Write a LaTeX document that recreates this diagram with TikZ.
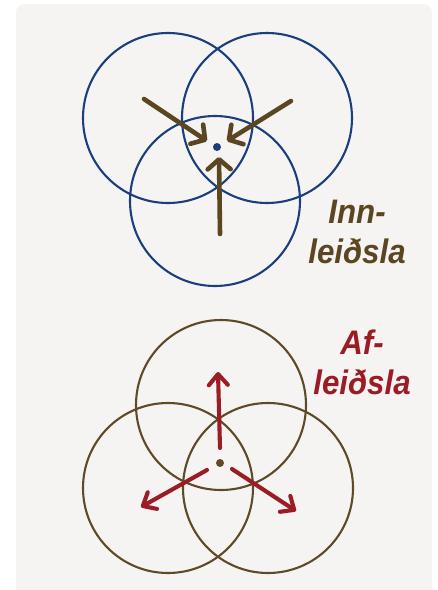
\documentclass[tikz,border=0pt]{standalone}
\usepackage{fontspec}
\setmainfont{Liberation Sans}
\newfontfamily\labelfont[FakeStretch=0.92]{Liberation Sans}
\usepackage{xcolor}
\usetikzlibrary{arrows.meta}

\definecolor{panel}{HTML}{F5F4F2}
\definecolor{navy}{HTML}{1B3F7E}
\definecolor{umber}{HTML}{5C4521}
\definecolor{ringbrown}{HTML}{5E4A28}
\definecolor{wine}{HTML}{9B1C24}

\begin{document}
\begin{tikzpicture}[x=1pt,y=-1pt,
  ring/.style={line width=2.1pt},
  inarrow/.style={umber,line width=4.6pt,line cap=round,
    -{Straight Barb[length=10pt,width=23pt,line cap=round,line join=round]}},
  outarrow/.style={wine,line width=4.1pt,line cap=round,
    -{Straight Barb[length=11pt,width=19pt,line cap=round,line join=round]}},
  word/.style={font=\labelfont\fontsize{34}{40}\selectfont\bfseries\itshape,anchor=base,inner sep=0pt}]
  \useasboundingbox (0,0) rectangle (438,590);
  \clip (0,0) rectangle (438,590);
  \fill[panel,rounded corners=8pt] (16,4) rectangle (432,620);

  % upper picture: three circles, arrows pointing in
  \draw[navy,ring] (168,118) circle (85);
  \draw[navy,ring] (267,118) circle (85);
  \draw[navy,ring] (215,201) circle (85);
  \coordinate (inC) at (217,147);
  \fill[navy] (inC) circle (4);
  \coordinate (inA) at (144,99);
  \coordinate (inAtip) at (207,141);
  \coordinate (inB) at (291,101);
  \coordinate (inBtip) at (227,141);
  \coordinate (inD) at (220,234);
  \coordinate (inDtip) at (219,157);
  \draw[inarrow] (inA) -- (inAtip);
  \draw[inarrow] (inB) -- (inBtip);
  \draw[inarrow] (inD) -- (inDtip);
  \node[word,umber] (inn1) at (357,223) {Inn-};
  \node[word,umber] (inn2) at (357,263) {leiðsla};

  % lower picture: three circles, arrows pointing out
  \draw[ringbrown,ring] (221,405) circle (85);
  \draw[ringbrown,ring] (168,488) circle (85);
  \draw[ringbrown,ring] (268,488) circle (85);
  \coordinate (outC) at (220,463);
  \fill[ringbrown] (outC) circle (4);
  \coordinate (outA) at (220,448);
  \coordinate (outAtip) at (218,372);
  \coordinate (outB) at (207,470);
  \coordinate (outBtip) at (141,507);
  \coordinate (outD) at (232,469);
  \coordinate (outDtip) at (296,511);
  \draw[outarrow] (outA) -- (outAtip);
  \draw[outarrow] (outB) -- (outBtip);
  \draw[outarrow] (outD) -- (outDtip);
  \node[word,wine] (af1) at (362,354) {Af-};
  \node[word,wine] (af2) at (362,394) {leiðsla};
\end{tikzpicture}
\end{document}
